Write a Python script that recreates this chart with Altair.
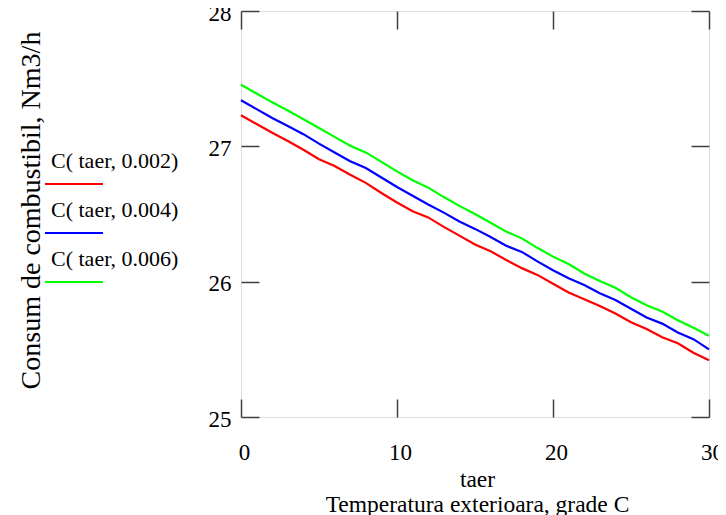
import altair as alt
import pandas as pd

taer = list(range(0, 31))
c_002 = [27.23, 27.165, 27.10, 27.04, 26.975, 26.905, 26.855, 26.79, 26.73, 26.655,
         26.585, 26.52, 26.475, 26.405, 26.34, 26.275, 26.225, 26.16, 26.10, 26.05,
         25.985, 25.92, 25.87, 25.82, 25.765, 25.70, 25.65, 25.59, 25.545, 25.475, 25.42]
c_004 = [27.34, 27.275, 27.21, 27.15, 27.09, 27.02, 26.955, 26.89, 26.84, 26.77,
         26.70, 26.635, 26.57, 26.51, 26.445, 26.39, 26.33, 26.265, 26.22, 26.15,
         26.085, 26.025, 25.975, 25.915, 25.865, 25.80, 25.735, 25.69, 25.625, 25.575, 25.50]
c_006 = [27.455, 27.39, 27.325, 27.265, 27.20, 27.135, 27.07, 27.005, 26.955, 26.885,
         26.815, 26.75, 26.695, 26.625, 26.56, 26.50, 26.435, 26.37, 26.32, 26.25,
         26.185, 26.13, 26.06, 26.005, 25.955, 25.885, 25.825, 25.78, 25.715, 25.66, 25.60]
series_names = ["C( taer, 0.002)", "C( taer, 0.004)", "C( taer, 0.006)"]
series_colors = ["#ff0000", "#0000ff", "#00ff00"]
x_ticks = [0, 10, 20, 30]
y_ticks = [25, 26, 27, 28]

rows = []
for name, vals in zip(series_names, [c_002, c_004, c_006]):
    for t, v in zip(taer, vals):
        rows.append({"taer": t, "C": v, "series": name})
df = pd.DataFrame(rows)

FONT = "Liberation Serif"
FRAME = "#404040"

xscale = alt.Scale(domain=[0, 30], nice=False, zero=False)
yscale = alt.Scale(domain=[25, 28], nice=False, zero=False)

lines = alt.Chart(df).mark_line(strokeWidth=2.2).encode(
    x=alt.X("taer:Q", scale=xscale,
            axis=alt.Axis(orient="bottom", values=x_ticks, offset=-18, tickSize=18,
                          tickColor=FRAME, tickWidth=1.5, domain=False, grid=False,
                          labelFont=FONT, labelFontSize=23, labelColor="black",
                          labelPadding=24, labelOffset=3, labelFlush=False,
                          title=["taer", "Temperatura exterioara, grade C"],
                          titleFont=FONT, titleFontSize=23.5, titleFontWeight="normal",
                          titleColor="black", titleLineHeight=25,
                          titleX=236, titleY=87, titleAlign="center",
                          titleBaseline="alphabetic")),
    y=alt.Y("C:Q", scale=yscale,
            axis=alt.Axis(orient="left", values=y_ticks, offset=-18, tickSize=18,
                          tickColor=FRAME, tickWidth=1.5, domain=False, grid=False,
                          labelFont=FONT, labelFontSize=23, labelColor="black",
                          labelPadding=10, labelOffset=2, labelFlush=False,
                          title="Consum de combustibil, Nm3/h",
                          titleFont=FONT, titleFontSize=28, titleFontWeight="normal",
                          titleColor="black", titleAngle=270,
                          titleX=-228, titleY=199, titleAlign="center",
                          titleBaseline="middle")),
    color=alt.Color("series:N",
                    scale=alt.Scale(domain=series_names, range=series_colors),
                    legend=alt.Legend(orient="none", legendX=-212, legendY=139,
                                      title=None, padding=0,
                                      symbolType="M0.5,2.3H6.3",
                                      symbolSize=400, symbolStrokeWidth=2,
                                      symbolFillColor="transparent",
                                      rowPadding=11,
                                      labelFont=FONT, labelFontSize=22,
                                      labelColor="black", labelOffset=0)),
)

frame_axes = alt.Chart(df).mark_line(opacity=0).encode(
    x=alt.X("taer:Q", scale=xscale,
            axis=alt.Axis(orient="top", values=x_ticks, offset=-18, tickSize=18,
                          tickColor=FRAME, tickWidth=1.5, domain=False, grid=False,
                          labels=False, title=None)),
    y=alt.Y("C:Q", scale=yscale,
            axis=alt.Axis(orient="right", values=y_ticks, offset=-18, tickSize=18,
                          tickColor=FRAME, tickWidth=1.5, domain=False, grid=False,
                          labels=False, title=None)),
    detail="series:N",
)

chart = alt.layer(lines, frame_axes).resolve_axis(
    x="independent", y="independent"
).properties(
    width=468, height=406,
    autosize=alt.AutoSizeParams(type="none"),
    padding={"left": 233, "top": 3, "right": 9, "bottom": 98},
).configure_view(
    stroke=FRAME, strokeWidth=1.5
).configure(background="white")

chart.save("out.html", embed_options={"renderer": "svg", "actions": False})
